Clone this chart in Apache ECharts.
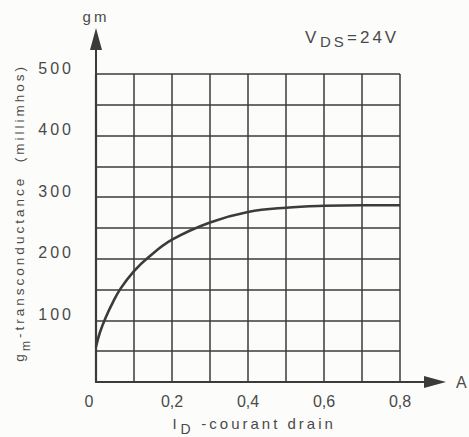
<!DOCTYPE html>
<html>
<head>
<meta charset="utf-8">
<script src="https://cdn.jsdelivr.net/npm/echarts@6/dist/echarts.min.js"></script>
<style>
  html, body { margin: 0; padding: 0; background: #fcfcfb; }
  #chart { width: 469px; height: 437px; }
  /* spaced-out lettering for the texts set in the "spaced" family stack */
  #chart text[style*="Arial"] { letter-spacing: 3px; }
</style>
</head>
<body>
<div id="chart"></div>
<script>
// Drain current (A) and transconductance gm (millimhos), VDS = 24 V
const drainCurrent     = [0,  0.01, 0.025, 0.045, 0.065, 0.1, 0.135, 0.2, 0.3, 0.4, 0.5, 0.6, 0.7, 0.8];
const transconductance = [57, 80,   104,   130,   152,   180, 201,   231, 259, 276, 283, 286, 287, 287];

// Labelled ticks
const xTickValues = [0, 0.2, 0.4, 0.6, 0.8];
const xTickLabels = ['0', '0,2', '0,4', '0,6', '0,8'];
const yTickValues = [100, 200, 300, 400, 500];
const yTickLabels = ['100', '200', '300', '400', '500'];

const ink = '#3b3b3b';
const textInk = '#4a4a4a';
const fontName = 'Liberation Sans';
const spaced = "'Liberation Sans', Arial, sans-serif";      // letter-spaced
const plain = "'Liberation Sans', Helvetica, sans-serif";   // normal spacing
const SPACING = 3; // same as the stylesheet's letter-spacing

// Rich-text pieces get an explicit width so spaced-out letters do not collide
const measureCtx = document.createElement('canvas').getContext('2d');
function piece(text, size, extra) {
  measureCtx.font = size + "px '" + fontName + "'";
  const w = measureCtx.measureText(text).width + SPACING * text.length;
  return Object.assign({ fontSize: size, fontFamily: spaced, color: textInk, fontWeight: 'normal', width: Math.ceil(w) }, extra || {});
}
const up = { verticalAlign: 'top', lineHeight: 20 };
const down = (p) => ({ verticalAlign: 'bottom', lineHeight: 20, padding: [p, 0, 0, 0] });

// Axis arrow: a short stem continuing the axis line, then a filled head
const arrowPath = 'path://M6,0L12,22L7,22L7,46L5,46L5,22L0,22Z';

function labelFor(values, labels, v) {
  for (let i = 0; i < values.length; i++) {
    if (Math.abs(values[i] - v) < 1e-6) return labels[i];
  }
  return '';
}

const chart = echarts.init(document.getElementById('chart'), null, { renderer: 'svg' });

chart.setOption({
  backgroundColor: '#fcfcfb',
  animation: false,
  textStyle: { fontFamily: plain, color: textInk },
  title: {
    text: '{v|V}{s|DS}{w|=24V}',
    left: 300,
    top: 24,
    textStyle: {
      fontWeight: 'normal',
      rich: {
        v: piece('V', 17, up),
        s: piece('DS', 15, down(9)),
        w: piece('=24V', 17, up)
      }
    }
  },
  grid: { left: 96, right: 69, top: 74, bottom: 55, containLabel: false, outerBoundsMode: 'none' },
  xAxis: [
    {
      type: 'value',
      min: 0, max: 0.8, interval: 0.2,
      name: 'A',
      nameLocation: 'end',
      nameGap: 56,
      nameTextStyle: { fontSize: 16, color: textInk, fontFamily: plain },
      axisLine: {
        show: true, onZero: false,
        lineStyle: { color: ink, width: 2.2 },
        symbol: ['none', arrowPath],
        symbolSize: [12, 46],
        symbolOffset: [0, 23]
      },
      axisTick: { show: false },
      axisLabel: {
        margin: 11,
        fontSize: 16,
        color: textInk,
        fontFamily: plain,
        formatter: v => {
          const t = labelFor(xTickValues, xTickLabels, v);
          return v === 0 ? '{z|' + t + '}' : t;
        },
        rich: { z: { fontSize: 16, color: textInk, fontFamily: plain, padding: [0, 14, 0, 0] } }
      },
      splitLine: { show: true, lineStyle: { color: ink, width: 1.5 } },
      minorTick: { show: false, splitNumber: 2 },
      minorSplitLine: { show: true, lineStyle: { color: ink, width: 1.5 } }
    },
    {
      type: 'value',
      position: 'bottom',
      min: 0, max: 0.8,
      name: '{a|I}{s|D}{b| -courant drain}',
      nameLocation: 'middle',
      nameGap: 34,
      nameTextStyle: {
        padding: [0, 0, 0, 12],
        rich: {
          a: piece('I', 15, up),
          s: piece('D', 14, down(7)),
          b: piece(' -courant drain', 15, up)
        }
      },
      axisLine: { show: false },
      axisTick: { show: false },
      axisLabel: { show: false },
      splitLine: { show: false }
    }
  ],
  yAxis: [
    {
      type: 'value',
      min: 0, max: 500, interval: 100,
      name: 'gm',
      nameLocation: 'end',
      nameGap: 50,
      nameTextStyle: { fontSize: 15, color: textInk, fontFamily: spaced, align: 'center' },
      axisLine: {
        show: true, onZero: false,
        lineStyle: { color: ink, width: 2.2 },
        symbol: ['none', arrowPath],
        symbolSize: [12, 46],
        symbolOffset: [0, 23]
      },
      axisTick: { show: false },
      axisLabel: {
        margin: 22,
        fontSize: 16,
        color: textInk,
        fontFamily: spaced,
        verticalAlign: 'bottom',
        lineHeight: 12,
        formatter: v => labelFor(yTickValues, yTickLabels, v)
      },
      splitLine: { show: true, lineStyle: { color: ink, width: 1.5 } },
      minorTick: { show: false, splitNumber: 2 },
      minorSplitLine: { show: true, lineStyle: { color: ink, width: 1.5 } }
    },
    {
      type: 'value',
      position: 'left',
      min: 0, max: 500,
      name: '{a|g}{s|m}{b|-transconductance  (millimhos)}',
      nameLocation: 'middle',
      nameRotate: 90,
      nameGap: 64,
      nameTextStyle: {
        padding: [0, 0, 0, 30],
        rich: {
          a: piece('g', 13.5, up),
          s: piece('m', 12, down(6)),
          b: piece('-transconductance  (millimhos)', 13.5, up)
        }
      },
      axisLine: { show: false },
      axisTick: { show: false },
      axisLabel: { show: false },
      splitLine: { show: false }
    }
  ],
  series: [
    {
      type: 'line',
      xAxisIndex: 0,
      yAxisIndex: 0,
      data: drainCurrent.map((x, i) => [x, transconductance[i]]),
      smooth: 0.4,
      showSymbol: false,
      lineStyle: { color: ink, width: 2.6 },
      z: 5
    }
  ]
});
</script>
</body>
</html>
